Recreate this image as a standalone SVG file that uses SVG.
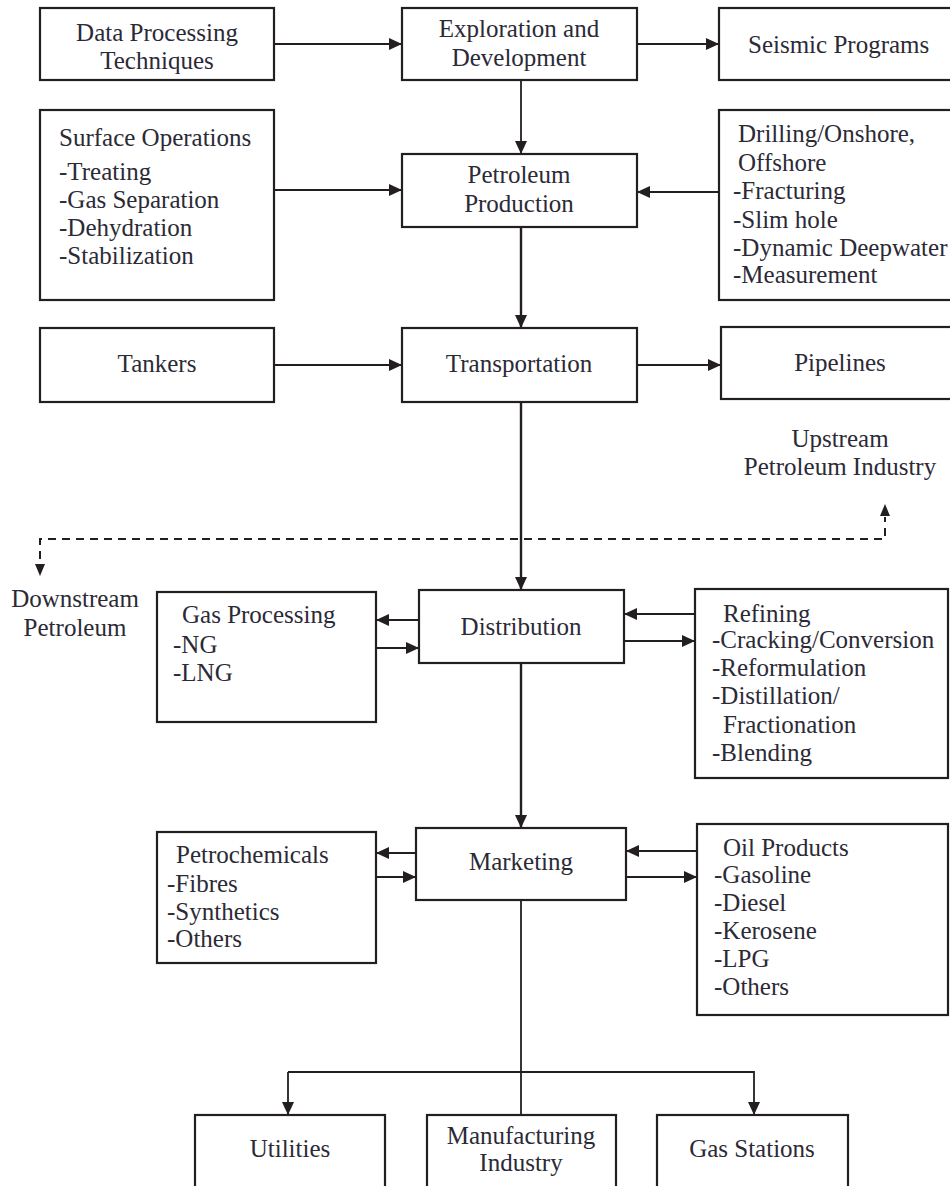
<svg xmlns="http://www.w3.org/2000/svg" width="950" height="1186" viewBox="0 0 950 1186">
<defs>
<style>
.box{fill:#fff;stroke:#231f20;stroke-width:2.2}
.t{font-family:"Liberation Serif","Times New Roman",serif;font-size:25px;fill:#2b2a36}
.c{text-anchor:middle}
.ln{fill:none;stroke:#231f20;stroke-width:1.8}
.thick{stroke-width:2.4}
.dash{fill:none;stroke:#231f20;stroke-width:2;stroke-dasharray:8 6}
</style>
<marker id="ah" viewBox="0 0 13 12" refX="13" refY="6" markerWidth="13" markerHeight="12" markerUnits="userSpaceOnUse" orient="auto">
<path d="M0,0 L13,6 L0,12 Z" fill="#231f20"/>
</marker>
</defs>
<rect width="950" height="1186" fill="#fff"/>

<g id="connectors">
<path class="ln" d="M274,44 H402" marker-end="url(#ah)"/>
<path class="ln" d="M637,44 H719" marker-end="url(#ah)"/>
<path class="ln" d="M521,80 V154" marker-end="url(#ah)"/>
<path class="ln" d="M274,190 H402" marker-end="url(#ah)"/>
<path class="ln" d="M719,192 H637" marker-end="url(#ah)"/>
<path class="ln thick" d="M521,227 V328" marker-end="url(#ah)"/>
<path class="ln" d="M274,365 H402" marker-end="url(#ah)"/>
<path class="ln" d="M637,365 H721" marker-end="url(#ah)"/>
<path class="ln thick" d="M521,402 V590" marker-end="url(#ah)"/>
<path class="dash" d="M40,573 V539 H885 V517"/>
<path d="M35,564 L45,564 L40,576 Z" fill="#231f20"/>
<path d="M880,516 L890,516 L885,504 Z" fill="#231f20"/>
<path class="ln" d="M419,620 H376" marker-end="url(#ah)"/>
<path class="ln" d="M376,648 H419" marker-end="url(#ah)"/>
<path class="ln" d="M695,614 H624" marker-end="url(#ah)"/>
<path class="ln" d="M624,641 H695" marker-end="url(#ah)"/>
<path class="ln thick" d="M521,663 V828" marker-end="url(#ah)"/>
<path class="ln" d="M416,853 H376" marker-end="url(#ah)"/>
<path class="ln" d="M376,877 H416" marker-end="url(#ah)"/>
<path class="ln" d="M697,851 H626" marker-end="url(#ah)"/>
<path class="ln" d="M626,877 H697" marker-end="url(#ah)"/>
<path class="ln" d="M521,900 V1115"/>
<path class="ln" d="M288,1072 H754 V1115" marker-end="url(#ah)"/>
<path class="ln" d="M288,1072 V1115" marker-end="url(#ah)"/>
</g>

<g id="data-processing">
<rect class="box" x="40" y="8" width="234" height="72"/>
<text class="t c" x="157" y="41">Data Processing</text>
<text class="t c" x="157" y="69">Techniques</text>
</g>
<g id="exploration">
<rect class="box" x="402" y="8" width="235" height="72"/>
<text class="t c" x="519" y="37">Exploration and</text>
<text class="t c" x="519" y="66">Development</text>
</g>
<g id="seismic">
<rect class="box" x="719" y="8" width="240" height="72"/>
<text class="t" x="748" y="53">Seismic Programs</text>
</g>
<g id="surface-operations">
<rect class="box" x="40" y="110" width="234" height="190"/>
<text class="t" x="59" y="146">Surface Operations</text>
<text class="t" x="59" y="180">-Treating</text>
<text class="t" x="59" y="208">-Gas Separation</text>
<text class="t" x="59" y="236">-Dehydration</text>
<text class="t" x="59" y="264">-Stabilization</text>
</g>
<g id="petroleum-production">
<rect class="box" x="402" y="154" width="235" height="73"/>
<text class="t c" x="519" y="183">Petroleum</text>
<text class="t c" x="519" y="212">Production</text>
</g>
<g id="drilling">
<rect class="box" x="719" y="110" width="240" height="190"/>
<text class="t" x="738" y="142">Drilling/Onshore,</text>
<text class="t" x="738" y="171">Offshore</text>
<text class="t" x="733" y="199">-Fracturing</text>
<text class="t" x="733" y="228">-Slim hole</text>
<text class="t" x="733" y="256">-Dynamic Deepwater</text>
<text class="t" x="733" y="283">-Measurement</text>
</g>
<g id="tankers">
<rect class="box" x="40" y="328" width="234" height="74"/>
<text class="t c" x="157" y="372">Tankers</text>
</g>
<g id="transportation">
<rect class="box" x="402" y="328" width="235" height="74"/>
<text class="t c" x="519" y="372">Transportation</text>
</g>
<g id="pipelines">
<rect class="box" x="721" y="327" width="240" height="72"/>
<text class="t c" x="840" y="371">Pipelines</text>
</g>
<g id="upstream-label">
<text class="t c" x="840" y="447">Upstream</text>
<text class="t c" x="840" y="475">Petroleum Industry</text>
</g>
<g id="downstream-label">
<text class="t c" x="75" y="607">Downstream</text>
<text class="t c" x="75" y="636">Petroleum</text>
</g>
<g id="gas-processing">
<rect class="box" x="157" y="592" width="219" height="130"/>
<text class="t" x="182" y="623">Gas Processing</text>
<text class="t" x="173" y="653">-NG</text>
<text class="t" x="173" y="681">-LNG</text>
</g>
<g id="distribution">
<rect class="box" x="419" y="590" width="205" height="73"/>
<text class="t c" x="521" y="635">Distribution</text>
</g>
<g id="refining">
<rect class="box" x="695" y="589" width="253" height="189"/>
<text class="t" x="723" y="622">Refining</text>
<text class="t" x="712" y="648">-Cracking/Conversion</text>
<text class="t" x="712" y="676">-Reformulation</text>
<text class="t" x="712" y="704">-Distillation/</text>
<text class="t" x="723" y="733">Fractionation</text>
<text class="t" x="712" y="761">-Blending</text>
</g>
<g id="marketing">
<rect class="box" x="416" y="828" width="210" height="72"/>
<text class="t c" x="521" y="870">Marketing</text>
</g>
<g id="petrochemicals">
<rect class="box" x="157" y="832" width="219" height="131"/>
<text class="t" x="176" y="863">Petrochemicals</text>
<text class="t" x="167" y="892">-Fibres</text>
<text class="t" x="167" y="920">-Synthetics</text>
<text class="t" x="167" y="947">-Others</text>
</g>
<g id="oil-products">
<rect class="box" x="697" y="824" width="251" height="191"/>
<text class="t" x="723" y="856">Oil Products</text>
<text class="t" x="714" y="883">-Gasoline</text>
<text class="t" x="714" y="911">-Diesel</text>
<text class="t" x="714" y="939">-Kerosene</text>
<text class="t" x="714" y="967">-LPG</text>
<text class="t" x="714" y="995">-Others</text>
</g>
<g id="utilities">
<rect class="box" x="195" y="1115" width="190" height="90"/>
<text class="t c" x="290" y="1157">Utilities</text>
</g>
<g id="manufacturing">
<rect class="box" x="427" y="1115" width="189" height="90"/>
<text class="t c" x="521" y="1144">Manufacturing</text>
<text class="t c" x="521" y="1171">Industry</text>
</g>
<g id="gas-stations">
<rect class="box" x="657" y="1115" width="191" height="90"/>
<text class="t c" x="752" y="1157">Gas Stations</text>
</g>
</svg>
